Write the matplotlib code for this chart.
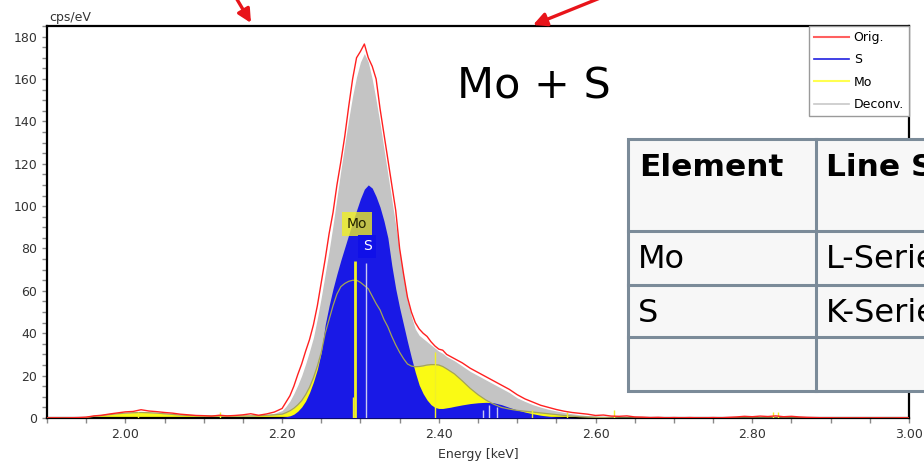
import numpy as np
import matplotlib
matplotlib.use("Agg")
import matplotlib.pyplot as plt
from matplotlib.lines import Line2D
from matplotlib.patches import Rectangle

# energy grid: 10 eV steps in the tails, 5 eV steps across the main peak
energy = np.round(np.concatenate([
    np.arange(1.90, 2.195, 0.01),
    np.arange(2.200, 2.4175, 0.005),
    np.arange(2.42, 3.005, 0.01),
]), 3)

# measured spectrum (cps/eV)
orig = [
    0.0, 0.1, 0.0, 0.1, 0.2, 0.4, 1.0, 1.3, 1.9, 2.4,
    2.9, 3.1, 3.9, 3.3, 3.0, 2.6, 2.3, 1.8, 1.5, 1.2,
    1.1, 0.9, 1.3, 1.0, 1.2, 1.5, 2.0, 1.3, 1.9, 2.8,
    # 2.200 .. 2.415
    4.5, 7.5, 10.5, 15, 20.5, 25.5, 31.5, 37, 44, 53,
    64, 75, 87, 97, 110, 121, 133, 147, 160, 170,
    173, 176.5, 170, 166, 160, 146, 134, 122, 110, 98,
    80, 68, 57, 50, 45, 42, 40, 38.5, 36, 34,
    32.5, 32, 30, 29,
    # 2.42 .. 3.00
    28, 26, 23.5, 21.5, 19.5, 17.5, 15.5, 13.5, 11, 9,
    7.5, 6, 5, 4, 3.2, 2.6, 2.2, 1.8, 1.2, 1.4,
    0.9, 0.8, 1.0, 0.5, 0.4, 0.2, 0.3, 0.1, 0.2, 0.1,
    0.2, 0.1, 0.1, 0.2, 0.1, 0.3, 0.5, 0.8, 0.6, 0.9,
    0.7, 1.0, 0.6, 0.8, 0.5, 0.3, 0.2, 0.1, 0.1, 0.0,
    0.1, 0.0, 0.1, 0.0, 0.1, 0.0, 0.0, 0.1, 0.0,
]

# sum of the fitted contributions
deconv = [
    0.0, 0.0, 0.0, 0.0, 0.1, 0.2, 0.8, 1.2, 1.6, 2.0,
    2.3, 2.5, 2.6, 2.5, 2.3, 2.0, 1.7, 1.4, 1.2, 1.1,
    1.0, 1.0, 1.0, 1.0, 1.0, 1.0, 1.1, 1.2, 1.5, 2.2,
    3.5, 5.5, 8, 11.5, 15.5, 20, 25.5, 31.5, 38, 47,
    57, 68, 79, 91, 104, 117, 129, 141, 152, 161,
    168, 172, 168, 160, 150, 139, 127, 115, 103, 91,
    79, 67, 56, 48, 42, 39, 37.5, 36, 34.5, 33,
    31.5, 30.5, 29, 28,
    27, 24.5, 22, 20, 18, 16, 14, 12, 9.5, 7.8,
    6.3, 5.1, 4.1, 3.3, 2.6, 2.0, 1.5, 1.1, 0.8, 0.6,
    0.4, 0.3, 0.2, 0.1, 0, 0, 0, 0, 0, 0,
    0, 0, 0, 0, 0, 0, 0, 0, 0, 0,
    0, 0, 0, 0, 0, 0, 0, 0, 0, 0,
    0, 0, 0, 0, 0, 0, 0, 0, 0,
]

# Mo L-series contribution
mo = [
    0.0, 0.0, 0.0, 0.0, 0.1, 0.2, 0.8, 1.2, 1.6, 2.0,
    2.3, 2.5, 2.6, 2.5, 2.3, 2.0, 1.7, 1.4, 1.2, 1.1,
    1.0, 1.0, 1.0, 1.0, 1.0, 1.0, 1.0, 1.1, 1.3, 1.5,
    1.8, 2.5, 3.4, 4.6, 6.2, 8.2, 11, 14.5, 19, 24.5,
    31, 40, 46.5, 53, 58.5, 62, 63.5, 64.5, 65, 65,
    64, 62.5, 61, 57.5, 54, 51, 46.5, 43, 38.5, 34.5,
    31, 28, 25.5, 24.5, 24.2, 24.3, 24.6, 25, 25.2, 25.2,
    25, 24.3, 23.2, 22,
    20.8, 17.5, 14, 11, 8.5, 6.5, 5, 4.2, 3.6, 3.2,
    2.8, 2.4, 2.0, 1.6, 1.2, 0.9, 0.6, 0.4, 0.3, 0.2,
    0.1, 0, 0, 0, 0, 0, 0, 0, 0, 0,
    0, 0, 0, 0, 0, 0, 0, 0, 0, 0,
    0, 0, 0, 0, 0, 0, 0, 0, 0, 0,
    0, 0, 0, 0, 0, 0, 0, 0, 0,
]

# S K-series contribution
s = [
    0, 0, 0, 0, 0, 0, 0, 0, 0, 0,
    0, 0, 0, 0, 0, 0, 0, 0, 0, 0,
    0, 0, 0, 0, 0, 0, 0, 0, 0.1, 0.2,
    0.3, 0.6, 1.0, 1.8, 3.2, 5.2, 8, 12, 17, 23,
    31, 44, 53, 61, 68, 74.5, 80.5, 86.5, 92.5, 98,
    103.5, 108, 110, 108.5, 104.5, 99.5, 93, 85, 72, 61,
    52, 44, 36, 28.5, 21.5, 15.5, 11.5, 8.5, 6.3, 5,
    4.5, 4.5, 4.8, 5.1,
    5.5, 6.2, 6.8, 7.2, 7.4, 7.2, 6.3, 5.0, 3.8, 2.8,
    2.0, 1.3, 0.8, 0.5, 0.3, 0.15, 0, 0, 0, 0,
    0, 0, 0, 0, 0, 0, 0, 0, 0, 0,
    0, 0, 0, 0, 0, 0, 0, 0, 0, 0,
    0, 0, 0, 0, 0, 0, 0, 0, 0, 0,
    0, 0, 0, 0, 0, 0, 0, 0, 0,
]

assert len(orig) == len(deconv) == len(mo) == len(s) == len(energy)

# line markers (keV, height in cps/eV)
mo_lines = [2.016, 2.121, 2.290, 2.293, 2.395, 2.519, 2.564, 2.624, 2.827, 2.833]
mo_heights = [3, 3, 10, 74, 31, 4, 3, 4, 3, 3]
s_lines = [2.307, 2.457, 2.464, 2.474]
s_heights = [73, 4, 6, 5]

fig = plt.figure(figsize=(9.24, 4.67), dpi=100)
ax = fig.add_axes([47 / 924, 49 / 467, 862 / 924, 392 / 467])

ax.fill_between(energy, deconv, color="#c4c4c4", lw=0, zorder=1)
ax.fill_between(energy, mo, color="#fafa14", lw=0, zorder=2)
ax.fill_between(energy, s, color="#1919e6", lw=0, zorder=3)
ax.plot(energy, mo, color="#a5a555", lw=0.9, zorder=4)

mo_lw = [1, 1, 1, 2, 1, 1, 1, 1, 1, 1]
ax.vlines(mo_lines, 0, mo_heights, colors="#f0f028", linewidths=mo_lw, zorder=5)
ax.vlines(s_lines, 0, s_heights, colors="#c8c8f0", linewidths=1, zorder=5)
ax.plot(energy, orig, color="#ff2020", lw=1.0, zorder=6)

ax.text(2.2957, 91.5, "Mo", ha="center", va="center", fontsize=10, color="#222200",
        zorder=7, bbox=dict(boxstyle="square,pad=0.35", fc="#f0f020", ec="none", alpha=0.78))
ax.text(2.3085, 81, "S", ha="center", va="center", fontsize=10, color="white",
        zorder=7, bbox=dict(boxstyle="square,pad=0.35", fc="#1010e8", ec="none"))

ax.text(0.565, 0.845, "Mo + S", transform=ax.transAxes, ha="center", va="center",
        fontsize=31, color="black")

ax.set_xlim(1.90, 3.00)
ax.set_ylim(0, 185)
ax.set_xticks([2.00, 2.20, 2.40, 2.60, 2.80, 3.00])
ax.set_xticklabels(["2.00", "2.20", "2.40", "2.60", "2.80", "3.00"])
ax.set_xticks(np.arange(1.90, 3.001, 0.05), minor=True)
ax.set_yticks(np.arange(0, 181, 20))
ax.set_yticks(np.arange(0, 186, 5), minor=True)
ax.tick_params(which="both", direction="out", color="#8a8a8a", labelsize=9,
               labelcolor="#333333", length=3.5, width=1)
for sp in ax.spines.values():
    sp.set_linewidth(1.6)
    sp.set_color("black")

ax.set_xlabel("Energy [keV]", fontsize=9, color="#333333", labelpad=5)
ax.text(0.003, 1.005, "cps/eV", transform=ax.transAxes, ha="left", va="bottom",
        fontsize=9, color="#333333")

handles = [
    Line2D([], [], color="#ff6060", lw=1.5),
    Line2D([], [], color="#2020e0", lw=1.2),
    Line2D([], [], color="#ffff50", lw=1.5),
    Line2D([], [], color="#c8c8c8", lw=1.2),
]
leg = ax.legend(handles, ["Orig.", "S", "Mo", "Deconv."], loc="upper right",
                bbox_to_anchor=(1.0, 1.0), borderaxespad=0, fontsize=9,
                handlelength=2.8, handletextpad=0.35, labelspacing=0.75,
                borderpad=0.4, fancybox=False, framealpha=1)
leg.get_frame().set_edgecolor("#9a9a9a")
leg.get_frame().set_linewidth(1)
leg.set_zorder(8)

# overlay in pixel units for the table and the arrows
over = fig.add_axes([0, 0, 1, 1], zorder=10)
over.set_xlim(0, 924)
over.set_ylim(467, 0)
over.axis("off")
over.patch.set_alpha(0)

grid_c = "#7b8b99"
over.add_patch(Rectangle((628, 139), 320, 252, fc="#f7f7f7", ec=grid_c, lw=2.2))
over.plot([816, 816], [139, 391], color=grid_c, lw=2.2)
for yy in [230.5, 284.5, 337]:
    over.plot([628, 948], [yy, yy], color=grid_c, lw=2.2)

over.text(639, 168, "Element", fontsize=22.5, fontweight="bold", va="center", ha="left")
over.text(826, 168, "Line Series", fontsize=22.5, fontweight="bold", va="center", ha="left")
over.text(638, 260, "Mo", fontsize=23, va="center", ha="left")
over.text(826, 260, "L-Series", fontsize=23, va="center", ha="left")
over.text(638, 313, "S", fontsize=23, va="center", ha="left")
over.text(826, 313, "K-Series", fontsize=23, va="center", ha="left")

arrow = dict(arrowstyle="-|>", color="#e8141a", lw=2.4, mutation_scale=20, shrinkA=0, shrinkB=0)
over.annotate("", xy=(251, 23), xytext=(235, -4), arrowprops=arrow)
over.annotate("", xy=(533, 25), xytext=(605, -4), arrowprops=arrow)

fig.savefig("out.png", dpi=100)
